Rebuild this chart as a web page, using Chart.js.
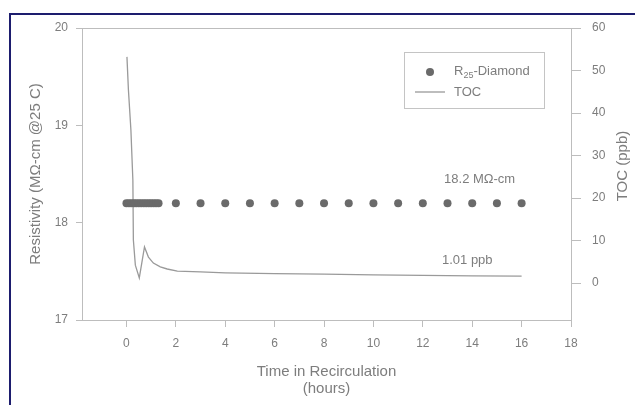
<!DOCTYPE html>
<html>
<head>
<meta charset="utf-8">
<script src="https://cdn.jsdelivr.net/npm/chart.js@4.4.1/dist/chart.umd.min.js"></script>
<style>
  html, body { margin: 0; padding: 0; background: #fff; }
  #wrap { position: relative; width: 635px; height: 405px; overflow: hidden; }
  #frame { position: absolute; left: 9px; top: 13px; width: 700px; height: 500px;
    border-left: 2px solid #1d1d6e; border-top: 2px solid #1d1d6e; }
  canvas { position: absolute; left: 0; top: 0; }
</style>
</head>
<body>
<div id="wrap">
  <div id="frame"></div>
  <canvas id="chart" width="635" height="405"></canvas>
</div>
<script>
// resistivity readings (MOhm-cm), hours
const resTime = [0, 0.1, 0.2, 0.3, 0.4, 0.5, 0.6, 0.7, 0.8, 0.9, 1.0, 1.1, 1.2, 1.3,
  2, 3, 4, 5, 6, 7, 8, 9, 10, 11, 12, 13, 14, 15, 16];
const resistivity = [18.2, 18.2, 18.2, 18.2, 18.2, 18.2, 18.2, 18.2, 18.2, 18.2, 18.2, 18.2, 18.2, 18.2,
  18.2, 18.2, 18.2, 18.2, 18.2, 18.2, 18.2, 18.2, 18.2, 18.2, 18.2, 18.2, 18.2, 18.2, 18.2];

// TOC trace (ppb), hours
const tocTime = [0.02, 0.08, 0.18, 0.26, 0.28, 0.36, 0.52, 0.73, 0.89, 1.09, 1.37, 1.65, 2.06,
  3, 4, 6, 8, 10, 12, 14, 16];
const toc = [53.2, 45.4, 36, 24.2, 10.1, 4.2, 1.2, 8.5, 6.1, 4.7, 3.8, 3.3, 2.8,
  2.6, 2.4, 2.2, 2.1, 1.9, 1.8, 1.7, 1.6];

const xTicks = [0, 2, 4, 6, 8, 10, 12, 14, 16, 18];
const resTicks = [17, 18, 19, 20];
const tocTicks = [0, 10, 20, 30, 40, 50, 60];

const notes = [
  { text: '18.2 M\u03A9-cm', x: 14.3, y: 18.44, axis: 'y' },
  { text: '1.01 ppb', x: 13.8, y: 5.4, axis: 'y2' },
];

const FONT = '"Liberation Sans", Arial, sans-serif';
const textColor = '#7d7d7d';
const axisColor = '#bdbdbd';
const dotColor = '#6a6a6a';
const lineColor = '#9a9a9a';

Chart.defaults.font.family = FONT;
Chart.defaults.color = textColor;

const keepTicks = (list) => (scale) => {
  scale.ticks = list.map((v) => ({ value: v }));
};

const frame = {
  id: 'frame',
  afterDatasetsDraw(chart) {
    const { ctx, chartArea: a } = chart;
    ctx.save();
    ctx.strokeStyle = axisColor;
    ctx.lineWidth = 1;
    ctx.beginPath();
    ctx.moveTo(a.left, a.top + 0.5);
    ctx.lineTo(a.right, a.top + 0.5);
    ctx.stroke();
    ctx.restore();
  },
};

const extras = {
  id: 'extras',
  afterDraw(chart) {
    const { ctx, chartArea: a, scales } = chart;
    ctx.save();

    // notes
    ctx.fillStyle = textColor;
    ctx.font = '13px ' + FONT;
    ctx.textAlign = 'center';
    ctx.textBaseline = 'middle';
    notes.forEach((n) => {
      ctx.fillText(n.text, scales.x.getPixelForValue(n.x), scales[n.axis].getPixelForValue(n.y));
    });

    // right axis title, reading upward
    ctx.save();
    ctx.translate(623, (a.top + a.bottom) / 2 - 8);
    ctx.rotate(-Math.PI / 2);
    ctx.font = '15px ' + FONT;
    ctx.fillText('TOC (ppb)', 0, 0);
    ctx.restore();

    // legend box
    const x0 = a.right - 167, y0 = a.top + 24;
    ctx.strokeStyle = '#c4c4c4';
    ctx.lineWidth = 1;
    ctx.strokeRect(x0 + 0.5, y0 + 0.5, 140, 56);

    ctx.fillStyle = dotColor;
    ctx.beginPath();
    ctx.arc(x0 + 26, y0 + 20, 4, 0, Math.PI * 2);
    ctx.fill();

    ctx.strokeStyle = lineColor;
    ctx.lineWidth = 1.3;
    ctx.beginPath();
    ctx.moveTo(x0 + 11, y0 + 40);
    ctx.lineTo(x0 + 41, y0 + 40);
    ctx.stroke();

    ctx.fillStyle = textColor;
    ctx.textAlign = 'left';
    let tx = x0 + 50;
    ctx.font = '13px ' + FONT;
    ctx.fillText('R', tx, y0 + 19);
    tx += ctx.measureText('R').width;
    ctx.font = '9px ' + FONT;
    ctx.fillText('25', tx, y0 + 24);
    tx += ctx.measureText('25').width;
    ctx.font = '13px ' + FONT;
    ctx.fillText('-Diamond', tx, y0 + 19);
    ctx.fillText(chart.data.datasets[1].label, x0 + 50, y0 + 40);

    ctx.restore();
  },
};

new Chart(document.getElementById('chart'), {
  type: 'scatter',
  data: {
    datasets: [
      {
        label: 'R25-Diamond',
        data: resTime.map((t, i) => ({ x: t, y: resistivity[i] })),
        yAxisID: 'y',
        pointRadius: 4,
        pointBorderWidth: 0,
        backgroundColor: dotColor,
        borderColor: dotColor,
      },
      {
        label: 'TOC',
        data: tocTime.map((t, i) => ({ x: t, y: toc[i] })),
        yAxisID: 'y2',
        showLine: true,
        pointRadius: 0,
        borderColor: lineColor,
        borderWidth: 1.3,
        tension: 0,
      },
    ],
  },
  options: {
    responsive: false,
    animation: false,
    layout: { padding: { top: 28 } },
    plugins: { legend: { display: false }, tooltip: { enabled: false } },
    scales: {
      x: {
        type: 'linear',
        min: -1.8,
        max: 18,
        afterBuildTicks: keepTicks(xTicks),
        afterFit: (s) => { s.height = 85; },
        ticks: { padding: 9, font: { size: 12 } },
        grid: { drawOnChartArea: false, tickLength: 7, color: axisColor },
        border: { color: axisColor },
        title: {
          display: true,
          text: ['Time in Recirculation', '(hours)'],
          font: { size: 15, lineHeight: 1.1 },
          padding: { top: 0, bottom: 8 },
        },
      },
      y: {
        position: 'left',
        min: 17,
        max: 20,
        afterBuildTicks: keepTicks(resTicks),
        afterFit: (s) => { s.width = 82; },
        ticks: { padding: 8, font: { size: 12 } },
        grid: { drawOnChartArea: false, tickLength: 6, color: axisColor },
        border: { color: axisColor },
        title: {
          display: true,
          text: 'Resistivity (M\u03A9-cm @25 C)',
          font: { size: 15, lineHeight: 1.1 },
          padding: { top: 28, bottom: 0 },
        },
      },
      y2: {
        position: 'right',
        min: -8.7,
        max: 60,
        afterBuildTicks: keepTicks(tocTicks),
        afterFit: (s) => { s.width = 64; },
        ticks: { padding: 11, font: { size: 12 } },
        grid: { drawOnChartArea: false, tickLength: 10, color: axisColor },
        border: { color: axisColor },
      },
    },
  },
  plugins: [frame, extras],
});
</script>
</body>
</html>
